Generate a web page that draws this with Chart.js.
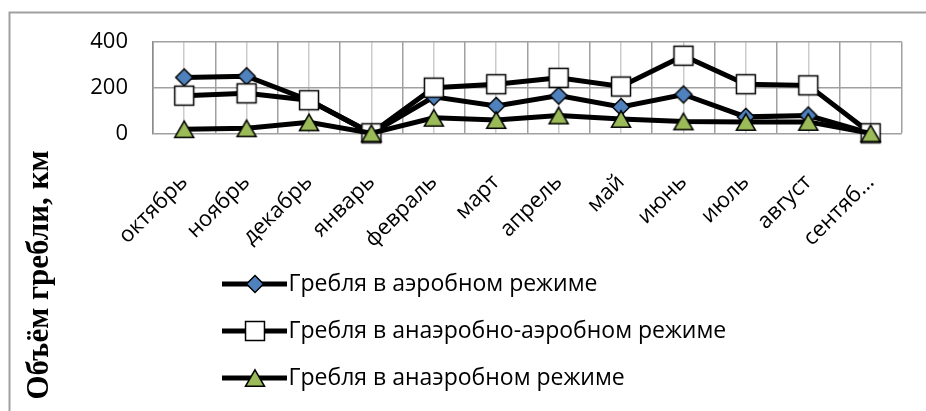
<!DOCTYPE html>
<html><head><meta charset="utf-8">
<script src="https://cdn.jsdelivr.net/npm/chart.js@4/dist/chart.umd.min.js"></script>
<style>html,body{margin:0;padding:0;background:#fff;overflow:hidden}</style>
</head><body>
<canvas id="c" width="926" height="411"></canvas>
<script>
const categories = ['октябрь','ноябрь','декабрь','январь','февраль','март','апрель','май','июнь','июль','август','сентябрь'];
const tickLabels = ['октябрь','ноябрь','декабрь','январь','февраль','март','апрель','май','июнь','июль','август','сентяб…'];
const seriesNames = ['Гребля в аэробном режиме','Гребля в анаэробно-аэробном режиме','Гребля в анаэробном режиме'];
const aerobic   = [245, 250, 145, 0, 160, 120, 165, 115, 170, 72, 78, 0];
const mixed     = [165, 175, 145, 0, 200, 215, 243, 205, 340, 215, 210, 0];
const anaerobic = [18, 22, 48, 0, 68, 58, 78, 63, 52, 50, 50, 0];
const yTitle = 'Объём гребли, км';

const styles = [
  {shape:'rectRot', r:8.5, fill:'#4f81bd'},
  {shape:'rect', r:13.4, fill:'#ffffff'},
  {shape:'triangle', r:11, fill:'#9bbb59'}
];

function drawMarker(g, shape, x, y, r, fill){
  g.save();
  g.fillStyle = fill; g.strokeStyle = '#000'; g.lineWidth = 1.5;
  g.beginPath();
  if (shape === 'rectRot'){
    g.moveTo(x, y - r); g.lineTo(x + r, y); g.lineTo(x, y + r); g.lineTo(x - r, y); g.closePath();
  } else if (shape === 'rect'){
    const s = r * Math.SQRT1_2; g.rect(x - s, y - s, 2*s, 2*s);
  } else {
    const yc = y + r*0.25;
    g.moveTo(x, yc - r); g.lineTo(x + r*Math.sqrt(3)/2, yc + r/2); g.lineTo(x - r*Math.sqrt(3)/2, yc + r/2); g.closePath();
  }
  g.fill(); g.stroke();
  g.restore();
}
function makeMarkerImg(st){
  const c = document.createElement('canvas'); c.width = 30; c.height = 30;
  drawMarker(c.getContext('2d'), st.shape, 15, 15, st.r, st.fill);
  return c;
}
function makeIcon(st){
  const c = document.createElement('canvas'); c.width = 120; c.height = 30;
  const g = c.getContext('2d');
  g.strokeStyle = '#000'; g.lineWidth = 5;
  g.beginPath(); g.moveTo(55, 15); g.lineTo(120, 15); g.stroke();
  drawMarker(g, st.shape, 88, 15, st.r, st.fill);
  return c;
}
const markerImgs = styles.map(makeMarkerImg);
const icons = styles.map(makeIcon);

const framePlugin = {
  id: 'frame',
  beforeDraw(chart){
    const ctx = chart.ctx; ctx.save();
    ctx.fillStyle = '#fff'; ctx.fillRect(0, 0, chart.width, chart.height);
    ctx.strokeStyle = '#a0a0a0'; ctx.lineWidth = 2;
    ctx.strokeRect(9.5, 12.5, 1200, 1200);
    ctx.restore();
  }
};

const seriesValues = [aerobic, mixed, anaerobic];
const datasets = seriesValues.map((vals, i) => ({
  label: seriesNames[i],
  data: vals,
  borderColor: '#000',
  borderWidth: 5,
  backgroundColor: styles[i].fill,
  pointStyle: markerImgs[i],
  pointRadius: styles[i].r,
  pointBackgroundColor: styles[i].fill,
  pointBorderColor: '#000',
  pointBorderWidth: 1.5,
  tension: 0,
  clip: false,
  order: 3 - i
}));

new Chart(document.getElementById('c'), {
  type: 'line',
  data: { labels: categories, datasets },
  plugins: [framePlugin],
  options: {
    responsive: false,
    animation: false,
    events: [],
    layout: { padding: { top: 42, right: 16, bottom: 11.5, left: 0 } },
    plugins: {
      tooltip: { enabled: false },
      title: {
        display: true, text: yTitle, position: 'left', align: 'start', color: '#000',
        font: { family: '"Liberation Serif", "Times New Roman", serif', size: 31, weight: 'bold', lineHeight: 1 },
        padding: { top: 24, bottom: 0 }
      },
      legend: {
        position: 'bottom', align: 'start', fullSize: false,
        labels: {
          usePointStyle: true, pointStyleWidth: 100, padding: 24, color: '#000',
          font: { family: '"Open Sans", sans-serif', size: 23 },
          sort: (a, b) => a.datasetIndex - b.datasetIndex,
          generateLabels(chart){
            const items = Chart.defaults.plugins.legend.labels.generateLabels(chart);
            items.forEach(it => { it.pointStyle = icons[it.datasetIndex]; });
            return items;
          }
        }
      }
    },
    scales: {
      x: {
        type: 'category', offset: true,
        grid: { offset: true, color: '#a0a0a0', lineWidth: 1.5, drawTicks: false },
        border: { display: false },
        ticks: { autoSkip: false, minRotation: 45, maxRotation: 45, padding: 36, color: '#000',
          font: { family: '"Open Sans", sans-serif', size: 22 },
          callback: (v, i) => tickLabels[i] },
        afterFit: s => { s.height = 115.2; }
      },
      x2: {
        type: 'category', labels: categories, offset: true, position: 'bottom',
        grid: { offset: false, color: '#cccccc', lineWidth: 1.5, drawTicks: false },
        border: { display: false },
        ticks: { display: false },
        afterFit: s => { s.height = 0; }
      },
      y: {
        min: 0, max: 400,
        ticks: { stepSize: 200, padding: 25, color: '#000', font: { family: '"Open Sans", sans-serif', size: 22 } },
        grid: { color: '#a0a0a0', lineWidth: 1.5, drawTicks: false },
        border: { color: '#8c8c8c', width: 1.5 },
        afterFit: s => { s.width = 98; }
      }
    }
  }
});
</script>
</body></html>
